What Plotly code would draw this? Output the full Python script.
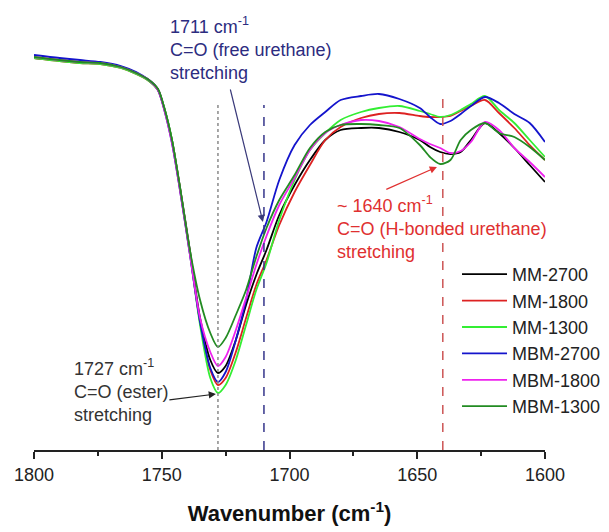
import plotly.graph_objects as go

# Wavenumber grid (cm^-1)
wavenumber = [1800, 1790, 1782, 1774, 1766, 1760, 1755, 1751.5, 1749, 1746, 1743, 1739, 1735, 1731,
              1728, 1725, 1721, 1717, 1713, 1709, 1704, 1698, 1692, 1686, 1680, 1672, 1665, 1657,
              1649, 1645, 1641, 1637, 1633, 1629, 1623.5, 1618, 1612, 1606, 1600]

# Transmittance (arbitrary units)
mm_2700 = [392, 390, 388, 387, 383, 377, 370, 361, 342, 310, 265, 200, 132, 90, 77, 84, 110, 145, 175, 200,
           235, 265, 290, 310, 320, 322, 322, 318, 310, 303, 298, 296, 298, 310, 327, 317, 302, 285, 268]
mm_1800 = [392, 389, 387, 386, 382, 376, 369, 360, 341, 309, 264, 198, 128, 80, 65, 72, 98, 132, 165, 190,
           225, 258, 285, 310, 323, 332, 336, 337, 334, 333, 333, 334, 339, 344, 350, 337, 322, 305, 290]
mm_1300 = [392, 389, 387, 386, 382, 376, 369, 360, 342, 310, 264, 197, 125, 72, 57, 65, 90, 125, 160, 187,
           230, 270, 300, 317, 330, 338, 342, 344, 339, 336, 333, 335, 340, 346, 354, 340, 327, 310, 293]
mbm_2700 = [395, 392, 390, 388, 384, 378, 370, 360, 340, 307, 262, 196, 128, 82, 68, 78, 110, 150, 202, 228,
            270, 305, 325, 338, 350, 354, 356, 351, 342, 333, 326, 329, 336, 344, 353, 347, 336, 327, 308]
mbm_1800 = [393, 390, 388, 387, 383, 377, 370, 360, 340, 307, 262, 196, 132, 98, 84, 93, 120, 152, 185, 214,
            245, 272, 300, 317, 325, 330, 329, 323, 311, 306, 302, 297, 299, 308, 328, 320, 302, 288, 273]
mbm_1300 = [393, 390, 388, 387, 383, 377, 370, 361, 342, 310, 265, 200, 150, 117, 103, 112, 135, 160, 193, 222,
            250, 275, 302, 318, 325, 326, 325, 322, 305, 293, 286, 290, 310, 320, 327, 317, 313, 303, 290]

series_names = ["MM-2700", "MM-1800", "MM-1300", "MBM-2700", "MBM-1800", "MBM-1300"]
series_values = [mm_2700, mm_1800, mm_1300, mbm_2700, mbm_1800, mbm_1300]
series_colors = ["#000000", "#dd2222", "#33ee33", "#1414cc", "#ee22ee", "#228b22"]

tick_values = [1800, 1750, 1700, 1650, 1600]
peak_ester = 1728
peak_free = 1710
peak_hbond = 1640

FONT = "Liberation Sans, Arial, sans-serif"

fig = go.Figure()
for name, vals, col in zip(series_names, series_values, series_colors):
    fig.add_trace(go.Scatter(x=wavenumber, y=vals, name=name, mode="lines",
                             line=dict(color=col, width=1.8, shape="spline", smoothing=0.8)))

# vertical reference lines
fig.add_shape(type="line", x0=peak_ester, x1=peak_ester, y0=0, y1=347,
              line=dict(color="#8a8a8a", width=1.5, dash="dot"))
fig.add_shape(type="line", x0=peak_free, x1=peak_free, y0=0, y1=345,
              line=dict(color="#35358a", width=1.5, dash="dash"))
fig.add_shape(type="line", x0=peak_hbond, x1=peak_hbond, y0=0, y1=353,
              line=dict(color="#cc5555", width=1.5, dash="dash"))

# text blocks
fig.add_annotation(x=1747.6, y=401.5, xref="x", yref="y", xanchor="left", yanchor="middle",
                   align="left", showarrow=False,
                   text="1711 cm<sup>-1</sup><br>C=O (free urethane)<br>stretching",
                   font=dict(family=FONT, size=18, color="#2c2c80"))
fig.add_annotation(x=1682.2, y=222.5, xref="x", yref="y", xanchor="left", yanchor="middle",
                   align="left", showarrow=False,
                   text="~ 1640 cm<sup>-1</sup><br>C=O (H-bonded urethane)<br>stretching",
                   font=dict(family=FONT, size=18, color="#e03030"))
fig.add_annotation(x=1785.2, y=60, xref="x", yref="y", xanchor="left", yanchor="middle",
                   align="left", showarrow=False,
                   text="1727 cm<sup>-1</sup><br>C=O (ester)<br>stretching",
                   font=dict(family=FONT, size=18, color="#333333"))

# arrows
fig.add_annotation(x=1710.4, y=228, ax=1723.3, ay=362, xref="x", yref="y", axref="x", ayref="y",
                   text="", showarrow=True, arrowhead=2, arrowsize=1.2, arrowwidth=1.2, arrowcolor="#3a3a7a")
fig.add_annotation(x=1642.3, y=283, ax=1662.7, ay=260, xref="x", yref="y", axref="x", ayref="y",
                   text="", showarrow=True, arrowhead=2, arrowsize=1.2, arrowwidth=1.2, arrowcolor="#e03030")
fig.add_annotation(x=1728.8, y=56, ax=1747.6, ay=50, xref="x", yref="y", axref="x", ayref="y",
                   text="", showarrow=True, arrowhead=2, arrowsize=1.2, arrowwidth=1.2, arrowcolor="#222222")

fig.update_layout(
    width=609, height=532,
    margin=dict(l=34, r=64, t=2, b=82),
    paper_bgcolor="white", plot_bgcolor="white",
    font=dict(family=FONT, color="#222222"),
    showlegend=True,
    legend=dict(x=1.1194, y=0.433, xanchor="right", yanchor="top",
                font=dict(family=FONT, size=18, color="#222222"),
                bgcolor="rgba(0,0,0,0)", tracegroupgap=0, itemwidth=45),
    xaxis=dict(range=[1800, 1600], tickvals=tick_values, ticks="outside", ticklen=7, tickwidth=1.5,
               tickcolor="#222", showline=True, linecolor="#222", linewidth=1.5, showgrid=False,
               zeroline=False, tickfont=dict(family=FONT, size=18, color="#222"), ticklabelstandoff=1,
               minor=dict(dtick=25, ticks="outside", ticklen=4, tickwidth=1.5, tickcolor="#222", showgrid=False),
               title=dict(text="<b>Wavenumber (cm<sup>-1</sup>)</b>", font=dict(family=FONT, size=22, color="#111"),
                          standoff=21)),
    yaxis=dict(range=[0, 448], visible=False),
)

fig.write_html("out.html")
